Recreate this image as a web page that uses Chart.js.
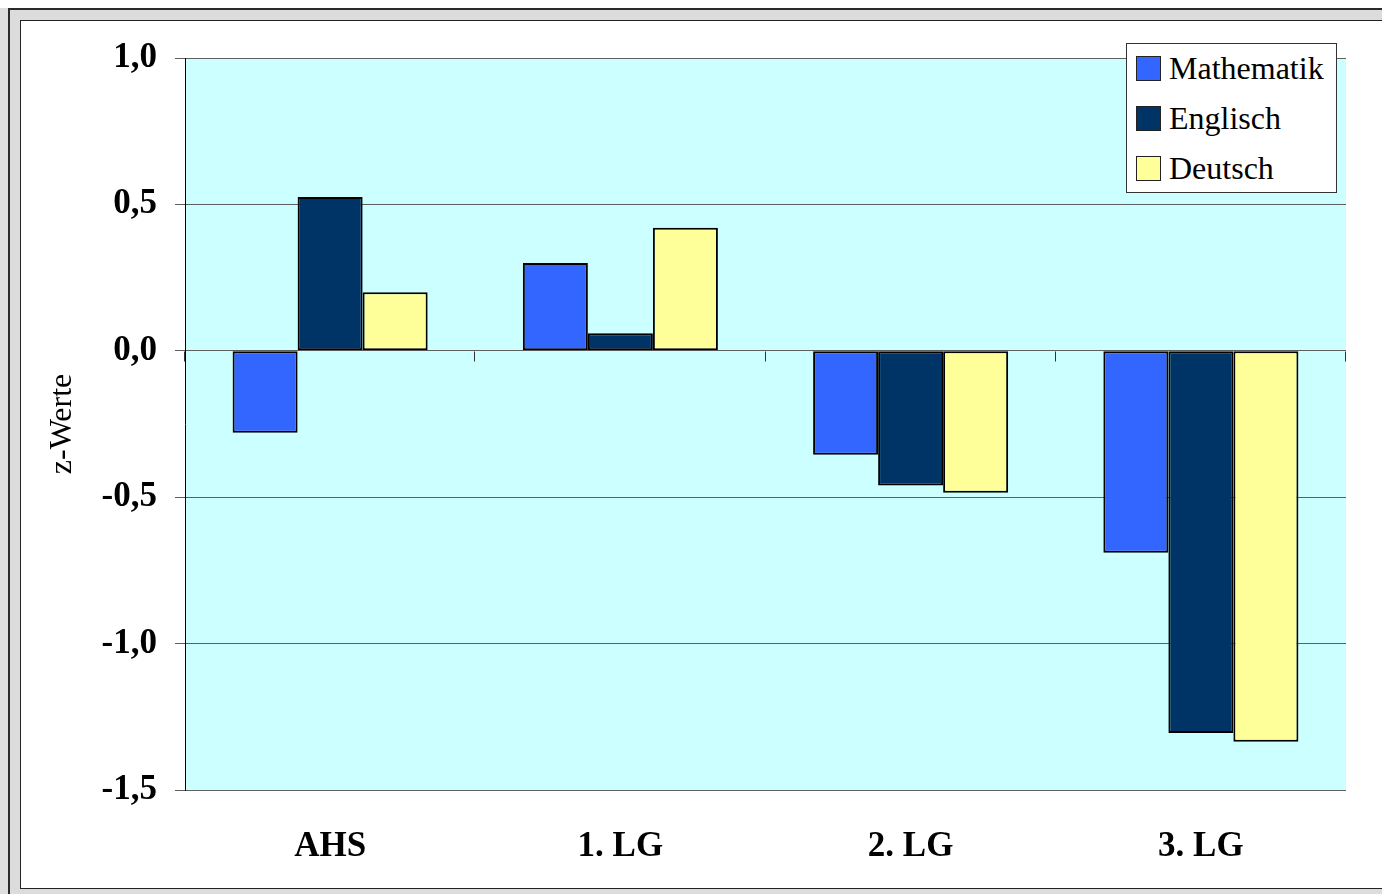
<!DOCTYPE html>
<html>
<head>
<meta charset="utf-8">
<script src="https://cdn.jsdelivr.net/npm/chart.js@4.4.1/dist/chart.umd.min.js"></script>
<style>
  html, body { margin: 0; padding: 0; overflow: hidden; }
  body { width: 1382px; height: 894px; background: #dedede; position: relative; }
  #topStrip { position: absolute; left: 0; top: 0; width: 1382px; height: 8px; background: #fff; }
  #outer { position: absolute; left: 8px; top: 8px; width: 1500px; height: 1000px;
           border: 2px solid #2a2a2a; background: #dcdcdc; }
  #inner { position: absolute; left: 10px; top: 10px; width: 1500px; height: 867px;
           border: 1px solid #222; background: #fff; }
  #chart { position: absolute; left: 0; top: 0; }
  #legend { position: absolute; left: 1126px; top: 43px; width: 211px; height: 150px;
            box-sizing: border-box; border: 1px solid #333; background: #fff;
            font-family: "Liberation Serif", "Times New Roman", serif; font-size: 32px; }
  .item { position: absolute; left: 9px; height: 50px; display: flex; align-items: center; }
  .swatch { width: 23px; height: 23px; border: 1px solid #222; margin-right: 8px; }
</style>
</head>
<body>
<div id="topStrip"></div>
<div id="outer"><div id="inner"><canvas id="chart" width="1361" height="867"></canvas></div></div>
<div id="legend"></div>
<script>
const categories = ["AHS", "1. LG", "2. LG", "3. LG"];
const mathematik = [-0.28, 0.30, -0.355, -0.69];
const englisch = [0.525, 0.06, -0.46, -1.305];
const deutsch = [0.20, 0.42, -0.485, -1.335];
const seriesNames = ["Mathematik", "Englisch", "Deutsch"];
const seriesColors = ["#3366FF", "#003366", "#FFFF99"];
const yMin = -1.5, yMax = 1.0, yStep = 0.5;

const serif = "'Liberation Serif', 'Times New Roman', serif";

// light cyan plot area
const plotBackground = {
  id: "plotBackground",
  beforeDraw(chart) {
    const { ctx, chartArea } = chart;
    ctx.save();
    ctx.fillStyle = "#CCFFFF";
    ctx.fillRect(chartArea.left, chartArea.top, chartArea.right - chartArea.left, chartArea.bottom - chartArea.top);
    ctx.restore();
  }
};

// small tick marks below the zero line at category boundaries
const zeroTicks = {
  id: "zeroTicks",
  afterDatasetsDraw(chart) {
    const { ctx } = chart;
    const x = chart.scales.x, y = chart.scales.y;
    const y0 = Math.round(y.getPixelForValue(0)) + 0.5;
    const n = categories.length;
    ctx.save();
    ctx.strokeStyle = "#333";
    ctx.lineWidth = 1;
    ctx.beginPath();
    for (let i = 0; i <= n; i++) {
      const px = Math.round(x.left + i * (x.width / n)) - 0.5;
      ctx.moveTo(px, y0);
      ctx.lineTo(px, y0 + 10);
    }
    ctx.stroke();
    ctx.restore();
  }
};

const seriesData = [mathematik, englisch, deutsch];
const datasets = seriesNames.map((name, i) => ({
  label: name,
  data: seriesData[i],
  backgroundColor: seriesColors[i],
  borderColor: "#000",
  borderWidth: 2,
  borderSkipped: false,
  categoryPercentage: 0.672,
  barPercentage: 1.0
}));

new Chart(document.getElementById("chart"), {
  type: "bar",
  data: { labels: categories, datasets: datasets },
  options: {
    responsive: false,
    animation: false,
    layout: { padding: { top: 37, right: 36, left: 0, bottom: 0 } },
    plugins: { legend: { display: false }, tooltip: { enabled: false } },
    scales: {
      x: {
        grid: { display: false, drawTicks: false },
        border: { display: false },
        ticks: {
          color: "#000",
          padding: 36,
          font: { family: serif, size: 35, weight: "bold" }
        },
        afterFit(scale) { scale.height = 98; }
      },
      y: {
        min: yMin,
        max: yMax,
        grid: { color: "#5f5f5f", lineWidth: 1, tickLength: 10 },
        border: { display: true, color: "#000", width: 1 },
        ticks: {
          stepSize: yStep,
          color: "#000",
          padding: 18,
          font: { family: serif, size: 35, weight: "bold" },
          callback: (v) => v.toFixed(1).replace(".", ",")
        },
        title: {
          display: true,
          text: "z-Werte",
          color: "#000",
          padding: { top: 22, bottom: 0 },
          font: { family: serif, size: 32 }
        },
        afterFit(scale) {
          scale.width = 164;
          scale.paddingTop = 0;
          scale.paddingBottom = 0;
        }
      }
    }
  },
  plugins: [plotBackground, zeroTicks]
});

// legend built from the series arrays
const legend = document.getElementById("legend");
seriesNames.forEach((name, i) => {
  const item = document.createElement("div");
  item.className = "item";
  item.style.top = (-1 + i * 50) + "px";
  const sw = document.createElement("div");
  sw.className = "swatch";
  sw.style.background = seriesColors[i];
  const label = document.createElement("span");
  label.textContent = name;
  item.appendChild(sw);
  item.appendChild(label);
  legend.appendChild(item);
});
</script>
</body>
</html>
